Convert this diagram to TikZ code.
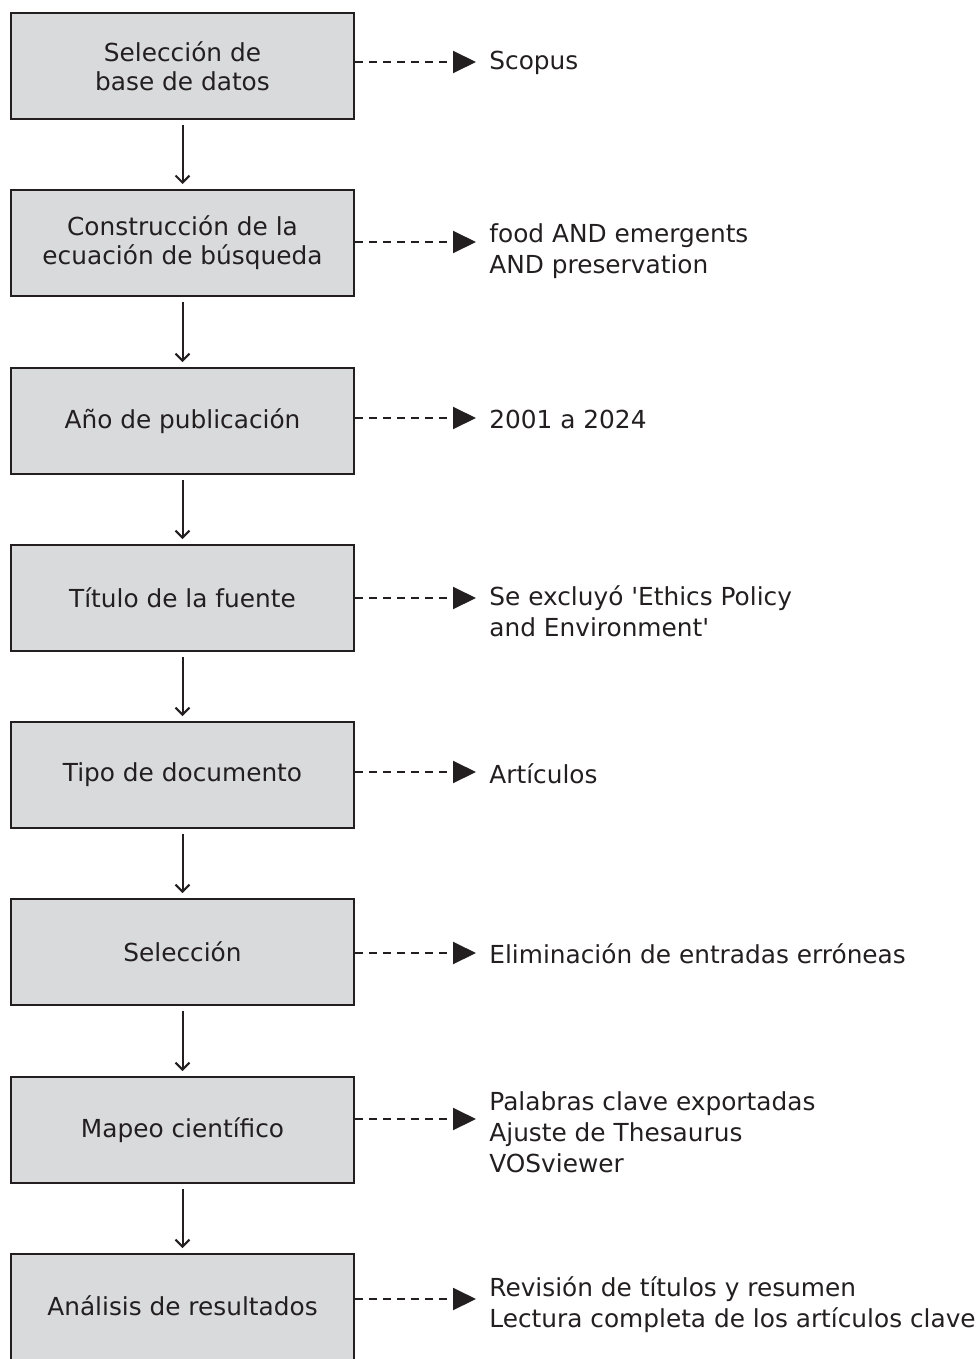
\documentclass[tikz,border=0pt]{standalone}
\usepackage{fontspec}
\setmainfont{DejaVu Sans}[Ligatures=TeXOff]
\usetikzlibrary{arrows.meta}
\definecolor{boxfill}{HTML}{D9DADC}
\definecolor{ink}{HTML}{231F20}
\begin{document}
\begin{tikzpicture}[x=0.5pt,y=-0.5pt,
  stepbox/.style={draw=ink,fill=boxfill,line width=1pt,minimum width=171.5pt,minimum height=53pt,inner sep=0pt,align=center,font=\fontsize{12.4}{14.4}\selectfont,text=ink},
  note/.style={anchor=west,inner sep=0pt,align=left,font=\fontsize{12.4}{15.5}\selectfont,text=ink},
  flow/.style={draw=ink,line width=1pt,-{Straight Barb[length=3.5pt,width=7pt,line width=1pt]},shorten <=2.5pt,shorten >=2.5pt},
  dasharrow/.style={draw=ink,line width=1pt,dash pattern=on 4pt off 3pt,-{Triangle[length=11.5pt,width=11pt]}}
]
\useasboundingbox (0,0) rectangle (977,1359);
\node[stepbox] (b1) at (182.5,66) {Selección de\\base de datos};
\node[stepbox] (b2) at (182.5,243) {Construcción de la\\ecuación de búsqueda};
\node[stepbox] (b3) at (182.5,421) {\raisebox{1.5pt}{Año de publicación}};
\node[stepbox] (b4) at (182.5,598) {Título de la fuente};
\node[stepbox] (b5) at (182.5,775) {\raisebox{-1pt}{Tipo de documento}};
\node[stepbox] (b6) at (182.5,952) {Selección};
\node[stepbox] (b7) at (182.5,1130) {\raisebox{-1.5pt}{Mapeo científico}};
\node[stepbox] (b8) at (182.5,1307) {\raisebox{1pt}{Análisis de resultados}};

\foreach \a/\b in {b1/b2,b2/b3,b3/b4,b4/b5,b5/b6,b6/b7,b7/b8}
  \draw[flow] (\a.south) -- (\b.north);

\node[note] (t1) at (489,63) {Scopus};
\node[note] (t2) at (489,251) {food AND emergents\\AND preservation};
\node[note] (t3) at (489,419) {2001 a 2024};
\node[note] (t4) at (489,611) {Se excluyó 'Ethics Policy\\and Environment'};
\node[note] (t5) at (489,774) {Artículos};
\node[note] (t6) at (489,954) {Eliminación de entradas erróneas};
\node[note] (t7) at (489,1132) {Palabras clave exportadas\\Ajuste de Thesaurus\\VOSviewer};
\node[note] (t8) at (489,1305) {Revisión de títulos y resumen\\Lectura completa de los artículos clave};

\coordinate (e1) at (476,62);
\coordinate (e2) at (476,242);
\coordinate (e3) at (476,418);
\coordinate (e4) at (476,598);
\coordinate (e5) at (476,772);
\coordinate (e6) at (476,953);
\coordinate (e7) at (476,1119);
\coordinate (e8) at (476,1299);
\foreach \i in {1,...,8}
  \draw[dasharrow] (b\i.east |- e\i) -- (e\i);
\end{tikzpicture}
\end{document}
